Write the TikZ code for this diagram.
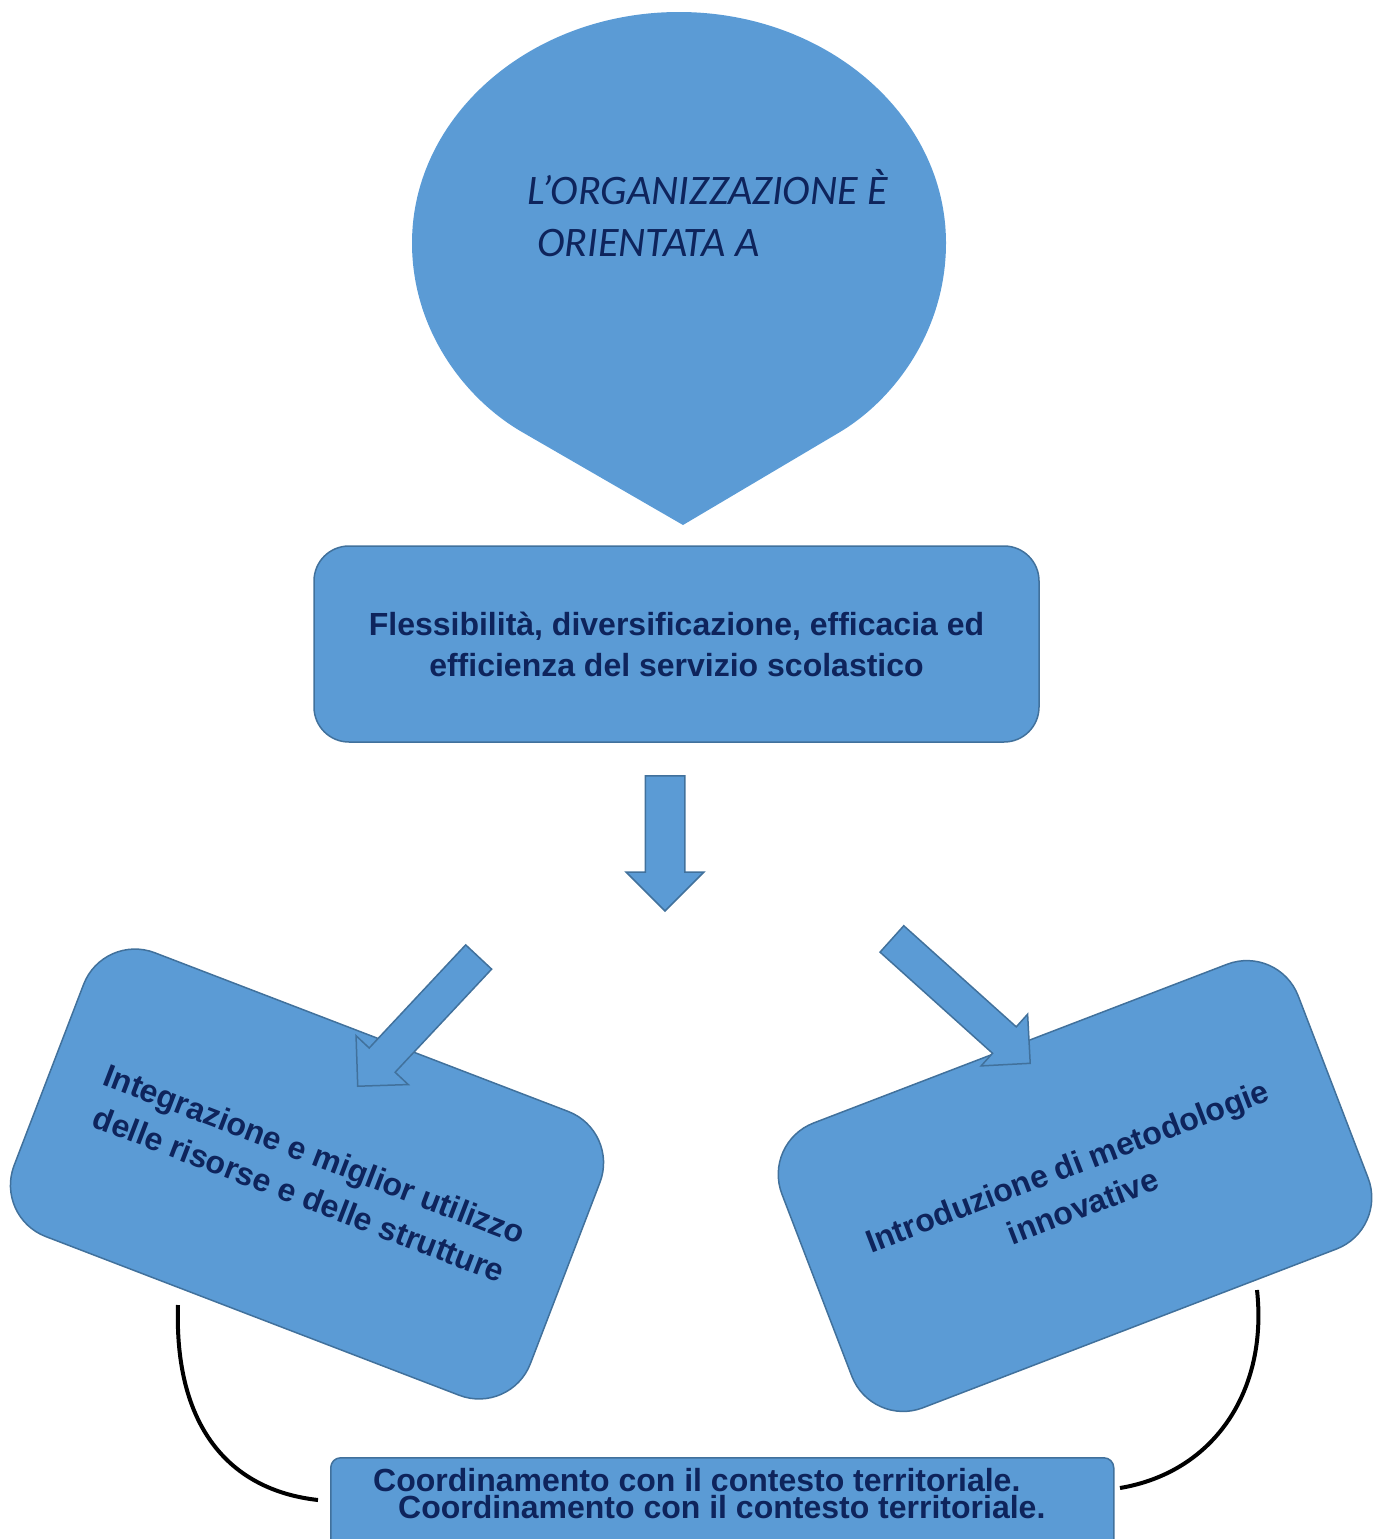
\documentclass[tikz,border=0pt]{standalone}
\usepackage{fontspec}
\setmainfont{Liberation Sans}
\newfontfamily\calfont{Carlito}
\usetikzlibrary{shapes.arrows}
\definecolor{boxblue}{HTML}{5B9BD5}
\definecolor{boxline}{HTML}{41719C}
\definecolor{navy}{RGB}{14,36,92}
\begin{document}
\begin{tikzpicture}[x=1pt,y=-1pt,
  bluebox/.style={draw=boxline, fill=boxblue, line width=1.5pt, rounded corners=#1,
    inner sep=0pt, align=center, text=navy},
  bluebox/.default=35pt,
  boldtext/.style={font=\bfseries\fontsize{32}{41}\selectfont},
  rottext/.style={font=\bfseries\fontsize{32}{43}\selectfont},
  blockarrow/.style={single arrow, draw=boxline, fill=boxblue, line width=1.5pt,
    single arrow tip angle=90, inner xsep=0pt, minimum width=0pt, anchor=tip},
  linkcurve/.style={draw=black, line width=4pt},
  titletext/.style={font=\calfont\itshape\fontsize{42}{46}\selectfont, text=navy, inner sep=0pt}
]
\useasboundingbox (0,0) rectangle (1383,1539);

% teardrop
\path[fill=boxblue] (412,243) .. controls (412,115.4) and (531.5,12) .. (679,12)
  .. controls (826.5,12) and (946,115.4) .. (946,243)
  .. controls (946,330) and (895,399) .. (840,432)
  -- (683,525) -- (522,432)
  .. controls (465,399) and (412,330) .. (412,243) -- cycle;
\node[titletext, anchor=base west] (title1) at (527,204) {L’ORGANIZZAZIONE È};
\node[titletext, anchor=base west] (title2) at (537,256) {ORIENTATA A};

% main box
\node[bluebox, boldtext, minimum width=725pt, minimum height=196pt] (flex) at (676.5,644)
  {Flessibilità, diversificazione, efficacia ed\\efficienza del servizio scolastico};

% side boxes
\node[bluebox=55pt, rottext, minimum width=553pt, minimum height=304pt, rotate=-21] (integr) at (307,1174)
  {Integrazione e miglior utilizzo\\delle risorse e delle strutture};
\node[bluebox=55pt, rottext, minimum width=553pt, minimum height=305pt, rotate=21] (intro) at (1075,1186)
  {Introduzione di metodologie\\innovative};

% block arrows
\node[blockarrow, minimum height=135pt, inner ysep=19pt, single arrow head extend=19pt, rotate=-90] (downarr) at (665,912) {};
\node[blockarrow, minimum height=177pt, inner ysep=17pt, single arrow head extend=18pt, rotate=226.9] (leftarr) at (357,1087) {};
\node[blockarrow, minimum height=186pt, inner ysep=17pt, single arrow head extend=17pt, rotate=-41.96] (rightarr) at (1031,1064) {};

% bottom box
\node[bluebox=10pt, minimum width=783pt, minimum height=110pt, anchor=north west] (coord) at (330,1457) {};
\node[boldtext, text=navy, inner sep=0pt, anchor=base west] (coordt1) at (373,1491) {Coordinamento con il contesto territoriale.};
\node[boldtext, text=navy, inner sep=0pt, anchor=base west] (coordt2) at (398,1518) {Coordinamento con il contesto territoriale.};

% connector curves
\coordinate (lstart) at (178,1305);
\coordinate (lend) at (318,1500);
\coordinate (rstart) at (1257,1290);
\coordinate (rend) at (1120,1488);
\draw[linkcurve] (lstart) .. controls (174,1425) and (228,1490) .. (lend);
\draw[linkcurve] (rstart) .. controls (1268,1390) and (1215,1472) .. (rend);
\end{tikzpicture}
\end{document}
